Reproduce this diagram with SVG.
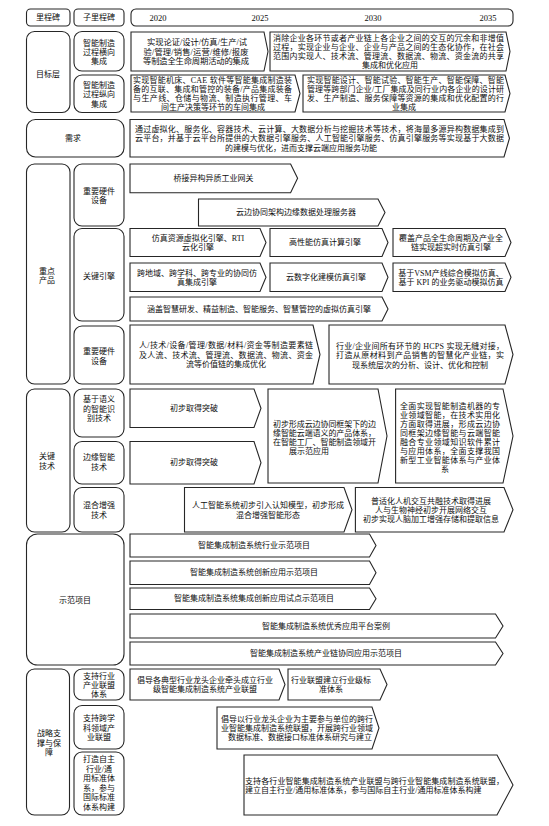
<svg xmlns="http://www.w3.org/2000/svg" width="549" height="826" viewBox="0 0 549 826">
<style>
.b{fill:#fff;stroke:#262626;stroke-width:1.1}
.t{font-family:"Liberation Serif","Noto Sans CJK SC","Noto Sans CJK JP",serif;font-size:8px;fill:#0d0d0d;text-anchor:middle;dominant-baseline:central}
.s{text-anchor:start}
.y{font-size:8.5px}
.l9{font-size:8.3px}
</style>
<rect width="549" height="826" fill="#fff"/>

<g id="hdr-milestone"><rect class="b" x="26.5" y="9" width="43.5" height="17" rx="4"/><text class="t" x="48" y="17.5">里程碑</text></g>
<g id="hdr-sub"><rect class="b" x="74" y="9" width="50" height="17" rx="4"/><text class="t" x="99" y="17.5">子里程碑</text></g>
<g id="hdr-timeline"><rect class="b" x="131" y="9" width="382" height="17" rx="5"/>
<text class="t y" x="158" y="17.5">2020</text><text class="t y" x="260" y="17.5">2025</text><text class="t y" x="373" y="17.5">2030</text><text class="t y" x="488" y="17.5">2035</text></g>

<!-- left column -->
<g id="goal"><rect class="b" x="26.5" y="31.5" width="43.5" height="81" rx="8"/><text class="t" x="48" y="74">目标层</text></g>
<g id="goal-h"><rect class="b" x="74" y="31.5" width="50" height="39.5" rx="8"/><text class="t"><tspan x="99" y="42.5">智能制造</tspan><tspan x="99" y="51.5">过程横向</tspan><tspan x="99" y="61">集成</tspan></text></g>
<g id="goal-v"><rect class="b" x="74" y="75" width="50" height="37.5" rx="8"/><text class="t"><tspan x="99" y="85">智能制造</tspan><tspan x="99" y="94">过程纵向</tspan><tspan x="99" y="103.5">集成</tspan></text></g>
<g id="need"><rect class="b" x="26.5" y="119.5" width="97.5" height="37.5" rx="9"/><text class="t" x="73" y="138.5">需求</text></g>
<g id="prod"><rect class="b" x="26.5" y="164" width="43.5" height="220" rx="8"/><text class="t"><tspan x="47" y="270.5">重点</tspan><tspan x="47" y="279.5">产品</tspan></text></g>
<g id="prod-hw1"><rect class="b" x="74" y="164" width="50" height="62" rx="8"/><text class="t"><tspan x="99" y="190.5">重要硬件</tspan><tspan x="99" y="200">设备</tspan></text></g>
<g id="prod-eng"><rect class="b" x="74" y="228.5" width="50" height="92.5" rx="8"/><text class="t" x="99" y="276">关键引擎</text></g>
<g id="prod-hw2"><rect class="b" x="74" y="326" width="50" height="58" rx="8"/><text class="t"><tspan x="99" y="351">重要硬件</tspan><tspan x="99" y="360.5">设备</tspan></text></g>
<g id="tech"><rect class="b" x="26.5" y="389" width="43.5" height="143" rx="8"/><text class="t"><tspan x="47" y="456">关键</tspan><tspan x="47" y="466">技术</tspan></text></g>
<g id="tech-sem"><rect class="b" x="74" y="389" width="50" height="48" rx="8"/><text class="t"><tspan x="99" y="399">基于语义</tspan><tspan x="99" y="408.5">的智能识</tspan><tspan x="99" y="418">别技术</tspan></text></g>
<g id="tech-edge"><rect class="b" x="74" y="441.5" width="50" height="42.5" rx="8"/><text class="t"><tspan x="99" y="457">边缘智能</tspan><tspan x="99" y="467">技术</tspan></text></g>
<g id="tech-mix"><rect class="b" x="74" y="487.5" width="50" height="44.5" rx="8"/><text class="t"><tspan x="99" y="505">混合增强</tspan><tspan x="99" y="515">技术</tspan></text></g>
<g id="demo"><rect class="b" x="26.5" y="534" width="97.5" height="131" rx="11"/><text class="t" x="75" y="600">示范项目</text></g>
<g id="strat"><rect class="b" x="26.5" y="669" width="43" height="146" rx="8"/><text class="t"><tspan x="49" y="733">战略支</tspan><tspan x="49" y="742.5">撑与保</tspan><tspan x="49" y="752">障</tspan></text></g>
<g id="strat-ind"><rect class="b" x="74" y="669" width="50" height="31" rx="8"/><text class="t"><tspan x="99" y="675.5">支持行业</tspan><tspan x="99" y="684.5">产业联盟</tspan><tspan x="99" y="693.5">体系</tspan></text></g>
<g id="strat-cross"><rect class="b" x="74" y="705.5" width="50" height="43.5" rx="8"/><text class="t"><tspan x="99" y="718">支持跨学</tspan><tspan x="99" y="727.5">科领域产</tspan><tspan x="99" y="737">业联盟</tspan></text></g>
<g id="strat-std"><rect class="b" x="74" y="752" width="50" height="63" rx="8"/><text class="t"><tspan x="99" y="759">打造自主</tspan><tspan x="99" y="768.5">行业/通</tspan><tspan x="99" y="778">用标准体</tspan><tspan x="99" y="787.5">系，参与</tspan><tspan x="99" y="797">国际标准</tspan><tspan x="99" y="806.5">体系构建</tspan></text></g>

<!-- goal arrows -->
<g id="g1a"><path class="b" d="M131,32H264L268,51.5L264,71H131Z"/>
<text class="t l9"><tspan x="197" y="42.2" textLength="100" lengthAdjust="spacing">实现论证/设计/仿真/生产/试</tspan><tspan x="196" y="51.5" textLength="105" lengthAdjust="spacing">验/管理/销售/运营/维修/报废</tspan><tspan x="196" y="60.8" textLength="106" lengthAdjust="spacing">等制造全生命周期活动的集成</tspan></text></g>
<g id="g1b"><path class="b" d="M270,32H506L510,51.5L506,71H270Z"/>
<text class="t"><tspan class="s" x="273" y="38" textLength="231" lengthAdjust="spacing">消除企业各环节或者产业链上各企业之间的交互的冗余和非增值</tspan><tspan class="s" x="273" y="46.9" textLength="231" lengthAdjust="spacing">过程，实现企业与企业、企业与产品之间的生态化协作，在社会</tspan><tspan class="s" x="273" y="55.8" textLength="231" lengthAdjust="spacing">范围内实现人、技术流、管理流、数据流、物流、资金流的共享</tspan><tspan x="390" y="64.7">集成和优化应用</tspan></text></g>
<g id="g2a"><path class="b" d="M131,75H295L300,93.5L295,112H131Z"/>
<text class="t"><tspan class="s" x="133" y="80" textLength="159" lengthAdjust="spacing">实现智能机床、CAE 软件等智能集成制造装</tspan><tspan class="s" x="133" y="89" textLength="159" lengthAdjust="spacing">备的互联、集成和管控的装备/产品集成装备</tspan><tspan class="s" x="133" y="98" textLength="159" lengthAdjust="spacing">与生产线、仓储与物流、制造执行管理、车</tspan><tspan x="213" y="107">间生产决策等环节的车间集成</tspan></text></g>
<g id="g2b"><path class="b" d="M303,75H505L510,93.5L505,112H303Z"/>
<text class="t"><tspan class="s" x="307" y="80" textLength="197" lengthAdjust="spacing">实现智能设计、智能试验、智能生产、智能保障、智能</tspan><tspan class="s" x="307" y="89" textLength="197" lengthAdjust="spacing">管理等跨部门企业/工厂集成及同行业内各企业的设计研</tspan><tspan class="s" x="307" y="98" textLength="197" lengthAdjust="spacing">发、生产制造、服务保障等资源的集成和优化配置的行</tspan><tspan x="404" y="107">业集成</tspan></text></g>

<g id="n-need"><path class="b" d="M130,119.5H504L509.5,138.25L504,157H130Z"/>
<text class="t"><tspan class="s" x="135" y="128.9" textLength="369" lengthAdjust="spacing">通过虚拟化、服务化、容器技术、云计算、大数据分析与挖掘技术等技术，将海量多源异构数据集成到</tspan><tspan class="s" x="135" y="138.2" textLength="369" lengthAdjust="spacing">云平台，并基于云平台所提供的大数据引擎服务、人工智能引擎服务、仿真引擎服务等实现基于大数据</tspan><tspan x="301" y="147.5">的建模与优化，进而支撑云端应用服务功能</tspan></text></g>

<!-- products -->
<g id="hw1a"><path class="b" d="M130,164H290.6L297.6,178.35L290.6,192.7H130Z"/><text class="t" x="213.5" y="178.3">桥接异构异质工业网关</text></g>
<g id="hw1b"><path class="b" d="M198.5,199H378L385,212.5L378,226H198.5Z"/><text class="t" x="296" y="212.5">云边协同架构边缘数据处理服务器</text></g>
<g id="e1a"><path class="b" d="M130,228.5H260L266,242.5L260,256.5H130Z"/><text class="t"><tspan x="198" y="238">仿真资源虚拟化引擎、RTI</tspan><tspan x="198" y="247">云化引擎</tspan></text></g>
<g id="e1b"><path class="b" d="M270,228.5H382L388,242.5L382,256.5H270Z"/><text class="t" x="325" y="242.5">高性能仿真计算引擎</text></g>
<g id="e1c"><path class="b" d="M393,228.5H505L511,242.5L505,256.5H393Z"/><text class="t"><tspan x="451" y="238">覆盖产品全生命周期及产业全</tspan><tspan x="451" y="247">链实现超实时仿真引擎</tspan></text></g>
<g id="e2a"><path class="b" d="M130,263H260L266,277.25L260,291.5H130Z"/><text class="t"><tspan x="197" y="272.7">跨地域、跨学科、跨专业的协同仿</tspan><tspan x="197" y="281.7">真集成引擎</tspan></text></g>
<g id="e2b"><path class="b" d="M270,263H382L388,277.25L382,291.5H270Z"/><text class="t" x="326" y="277.2">云数字化建模仿真引擎</text></g>
<g id="e2c"><path class="b" d="M393,263H505L511,277.25L505,291.5H393Z"/><text class="t"><tspan x="451" y="272.7">基于VSM产线综合模拟仿真、</tspan><tspan x="451" y="281.7">基于 KPI 的业务驱动模拟仿真</tspan></text></g>
<g id="e3"><path class="b" d="M130,297H382L388,309L382,321H130Z"/><text class="t" x="259" y="309">涵盖智慧研发、精益制造、智能服务、智慧管控的虚拟仿真引擎</text></g>
<g id="hw2a"><path class="b" d="M130,325H313L320,354.5L313,384H130Z"/>
<text class="t"><tspan class="s" x="139" y="345" textLength="174" lengthAdjust="spacing">人/技术/设备/管理/数据/材料/资金等制造要素链</tspan><tspan class="s" x="139" y="354.5" textLength="174" lengthAdjust="spacing">及人流、技术流、管理流、数据流、物流、资金</tspan><tspan x="226" y="364">流等价值链的集成优化</tspan></text></g>
<g id="hw2b"><path class="b" d="M329,325H505L513,354.5L505,384H329Z"/>
<text class="t"><tspan class="s" x="336" y="345.5" textLength="168" lengthAdjust="spacing">行业/企业间所有环节的 HCPS 实现无缝对接，</tspan><tspan class="s" x="336" y="355" textLength="168" lengthAdjust="spacing">打造从原材料到产品销售的智慧化产业链，实</tspan><tspan x="420" y="364.5">现系统层次的分析、设计、优化和控制</tspan></text></g>

<!-- key tech -->
<g id="k1"><path class="b" d="M130,389H254L261,408.25L254,427.5H130Z"/><text class="t" x="194" y="408.3">初步取得突破</text></g>
<g id="k2"><path class="b" d="M130,441.5H254L261,462.75L254,484H130Z"/><text class="t" x="194" y="462.8">初步取得突破</text></g>
<g id="kmid"><path class="b" d="M268,389H378L387,436L378,483H268Z"/>
<text class="t"><tspan class="s" x="273" y="424" textLength="103" lengthAdjust="spacing">初步形成云边协同框架下的边</tspan><tspan class="s" x="273" y="433" textLength="103" lengthAdjust="spacing">缘智能云端语义的产品体系，</tspan><tspan class="s" x="273" y="442" textLength="103" lengthAdjust="spacing">在智能工厂、智能制造领域开</tspan><tspan x="309" y="451">展示范应用</tspan></text></g>
<g id="kright"><path class="b" d="M395.6,389H503L513,436L503,483H395.6Z"/>
<text class="t"><tspan class="s" x="400" y="405.5" textLength="100" lengthAdjust="spacing">全面实现智能制造机器的专</tspan><tspan class="s" x="400" y="414.5" textLength="100" lengthAdjust="spacing">业领域智能，在技术实用化</tspan><tspan class="s" x="400" y="423.5" textLength="100" lengthAdjust="spacing">方面取得进展，形成云边协</tspan><tspan class="s" x="400" y="432.5" textLength="100" lengthAdjust="spacing">同框架边缘智能与云端智能</tspan><tspan class="s" x="400" y="441.5" textLength="100" lengthAdjust="spacing">融合专业领域知识软件累计</tspan><tspan class="s" x="400" y="450.5" textLength="100" lengthAdjust="spacing">与应用体系，全面支撑我国</tspan><tspan class="s" x="400" y="459.5" textLength="100" lengthAdjust="spacing">新型工业智能体系与产业体</tspan><tspan x="445" y="468.5">系</tspan></text></g>
<g id="m1"><path class="b" d="M184.5,487.5H344L352,509.75L344,532H184.5Z"/><text class="t"><tspan x="268" y="505.3">人工智能系统初步引入认知模型，初步形成</tspan><tspan x="268" y="514.5">混合增强智能形态</tspan></text></g>
<g id="m2"><path class="b" d="M355.4,487.5H504L513,509.75L504,532H355.4Z"/><text class="t"><tspan x="431" y="500.5">普适化人机交互共融技术取得进展</tspan><tspan x="431" y="509.8">人与生物神经初步开展网络交互</tspan><tspan x="431" y="519">初步实现人脑加工增强存储和提取信息</tspan></text></g>

<!-- demo -->
<g id="d1"><path class="b" d="M130,534H369.5L376,545.5L369.5,557H130Z"/><text class="t" x="254" y="545.5">智能集成制造系统行业示范项目</text></g>
<g id="d2"><path class="b" d="M130,561H369.5L376,572.75L369.5,584.5H130Z"/><text class="t" x="254" y="572.8">智能集成制造系统创新应用示范项目</text></g>
<g id="d3"><path class="b" d="M130,588H369.5L376,598.75L369.5,609.5H130Z"/><text class="t" x="254" y="598.8">智能集成制造系统集成创新应用试点示范项目</text></g>
<g id="d4"><path class="b" d="M130,614H495.5L503,626L495.5,638H130Z"/><text class="t" x="326" y="626">智能集成制造系统优秀应用平台案例</text></g>
<g id="d5"><path class="b" d="M130,642H495.5L503,653.5L495.5,665H130Z"/><text class="t" x="326" y="653.5">智能集成制造系统产业链协同应用示范项目</text></g>

<!-- strategy -->
<g id="s1a"><path class="b" d="M130,669H279L285,684.5L279,700H130Z"/><text class="t"><tspan x="205" y="680">倡导各典型行业龙头企业牵头成立行业</tspan><tspan x="205" y="689">级智能集成制造系统产业联盟</tspan></text></g>
<g id="s1b"><path class="b" d="M288,669H380L387,684.5L380,700H288Z"/><text class="t"><tspan x="331" y="680">行业联盟建立行业级标</tspan><tspan x="331" y="689">准体系</tspan></text></g>
<g id="s2"><path class="b" d="M217,707H372L379,728L372,749H217Z"/><text class="t"><tspan x="297" y="718.7">倡导以行业龙头企业为主要参与单位的跨行</tspan><tspan x="297" y="728">业智能集成制造系统联盟，开展跨行业领域</tspan><tspan x="300" y="737.3">数据标准、数据接口标准体系研究与建立</tspan></text></g>
<g id="s3"><path class="b" d="M244,755H497L513,785L497,815H244Z"/>
<text class="t"><tspan class="s" x="245" y="780.5" textLength="259" lengthAdjust="spacing">支持各行业智能集成制造系统产业联盟与跨行业智能集成制造系统联盟，</tspan><tspan class="s" x="245" y="790">建立自主行业/通用标准体系，参与国际自主行业/通用标准体系构建</tspan></text></g>

<g id="connectors"></g>
</svg>
